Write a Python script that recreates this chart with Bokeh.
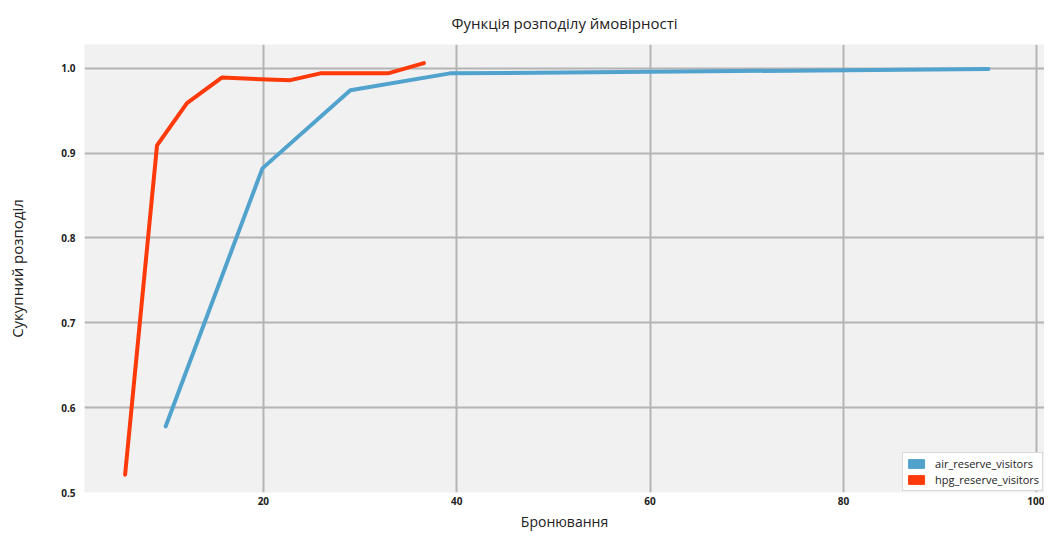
from bokeh.plotting import figure
from bokeh.models import Range1d, Legend, LegendItem, FixedTicker, NumeralTickFormatter
from bokeh.embed import file_html
from bokeh.resources import INLINE

# Data
air_x = [9.9, 19.9, 29.0, 39.3, 95.0]
air_y = [0.578, 0.882, 0.974, 0.994, 0.999]
hpg_x = [5.7, 9.0, 12.1, 15.7, 19.7, 22.8, 25.9, 32.9, 36.6]
hpg_y = [0.521, 0.909, 0.959, 0.989, 0.987, 0.986, 0.994, 0.994, 1.006]
series_names = ["air_reserve_visitors", "hpg_reserve_visitors"]
x_ticks = [20, 40, 60, 80, 100]
y_ticks = [0.5, 0.6, 0.7, 0.8, 0.9, 1.0]

BLUE = "#51a2cd"
RED = "#ff3a0a"
FONT = "Open Sans"
nan = float("nan")

p = figure(width=1044, height=533, output_backend="svg", toolbar_location=None,
           x_range=Range1d(1.5, 100.8), y_range=Range1d(0.5, 1.028),
           min_border_left=84, min_border_right=0, min_border_top=44, min_border_bottom=36,
           title="Функція розподілу ймовірності")
p.background_fill_color = "#f1f1f1"
p.border_fill_color = "white"
p.outline_line_color = None

p.title.align = "center"
p.title.vertical_align = "top"
p.title.text_font = FONT
p.title.text_font_size = "15px"
p.title.text_font_style = "normal"
p.title.text_color = "#222222"
p.title.standoff = 19

p.xaxis.ticker = FixedTicker(ticks=x_ticks)
p.yaxis.ticker = FixedTicker(ticks=y_ticks)
p.yaxis.formatter = NumeralTickFormatter(format="0.0")
p.xaxis.axis_label = "Бронювання"
p.yaxis.axis_label = "Сукупний розподіл"
for ax in (p.xaxis[0], p.yaxis[0]):
    ax.axis_line_color = None
    ax.major_tick_line_color = None
    ax.minor_tick_line_color = None
    ax.major_tick_out = 0
    ax.major_tick_in = 0
    ax.minor_tick_out = 0
    ax.minor_tick_in = 0
    ax.major_label_text_font = FONT
    ax.major_label_text_font_size = "10px"
    ax.major_label_text_font_style = "bold"
    ax.major_label_text_color = "#222222"
    ax.axis_label_text_font = FONT
    ax.axis_label_text_font_size = "15px"
    ax.axis_label_text_font_style = "normal"
    ax.axis_label_text_color = "#222222"
p.yaxis.major_label_standoff = 9
p.yaxis.axis_label_standoff = 31
p.xaxis.major_label_standoff = 4
p.xaxis.axis_label_standoff = 4
p.xaxis.axis_label_text_font_size = "14px"

p.xgrid.ticker = FixedTicker(ticks=x_ticks)
p.ygrid.ticker = FixedTicker(ticks=y_ticks)
for g in (p.xgrid[0], p.ygrid[0]):
    g.grid_line_color = "#b4b4b4"
    g.grid_line_width = 2

p.line(air_x, air_y, line_color=BLUE, line_width=4, line_cap="round", line_join="round")
p.line(hpg_x, hpg_y, line_color=RED, line_width=4, line_cap="round", line_join="round")

# legend swatches (rectangular, as in the reference); NaN geometry draws nothing on the plot
sw_air = p.quad(left=[nan], right=[nan], top=[nan], bottom=[nan], fill_color=BLUE, line_color=BLUE)
sw_hpg = p.quad(left=[nan], right=[nan], top=[nan], bottom=[nan], fill_color=RED, line_color=RED)
legend = Legend(items=[LegendItem(label=series_names[0], renderers=[sw_air]),
                       LegendItem(label=series_names[1], renderers=[sw_hpg])],
                location="bottom_right")
legend.margin = 1
legend.padding = 3
legend.spacing = 1
legend.glyph_width = 20
legend.glyph_height = 11
legend.label_height = 11
legend.label_standoff = 9
legend.label_text_font = FONT
legend.label_text_font_size = "11px"
legend.label_text_color = "#222222"
legend.border_line_color = "#b4b4b4"
legend.border_line_width = 1
legend.background_fill_color = "white"
legend.background_fill_alpha = 1.0
p.add_layout(legend)

open("out.html", "w").write(file_html(p, INLINE))
